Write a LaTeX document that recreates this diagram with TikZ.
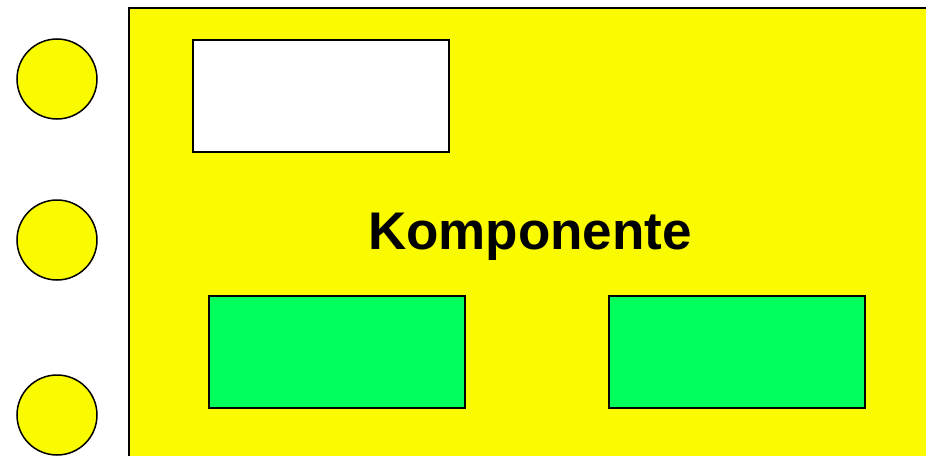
\documentclass[tikz,border=0pt]{standalone}
\usepackage{fontspec}
\setmainfont{Liberation Sans}
\usetikzlibrary{positioning}
\definecolor{kyellow}{RGB}{250,250,0}
\definecolor{kgreen}{RGB}{0,255,90}
\begin{document}
\begin{tikzpicture}[
  x=1pt, y=-1pt,
  port/.style   = {draw, circle, fill=kyellow, line width=1.5pt,
                   minimum size=80pt, inner sep=0pt},
  part/.style   = {draw, line width=1.5pt, minimum width=256pt,
                   minimum height=112pt, inner sep=0pt},
  title/.style  = {font=\fontsize{53}{60}\selectfont\bfseries}
]
\useasboundingbox (0,0) rectangle (926,455);
\clip (0,0) rectangle (926,455);

%% ---- component body ----
\draw[fill=kyellow, line width=1.5pt] (129,8) rectangle (940,470);

%% ---- ports ----
\node[port] (p1) at (57,79)  {};
\node[port] (p2) at (57,240) {};
\node[port] (p3) at (57,415) {};

%% ---- inner parts ----
\node[part, fill=white]  (head)  at (321,96)  {};
\node[part, fill=kgreen] (left)  at (337,352) {};
\node[part, fill=kgreen] (right) at (737,352) {};

\node[title, anchor=base] (name) at (530,249) {Komponente};
\end{tikzpicture}
\end{document}
